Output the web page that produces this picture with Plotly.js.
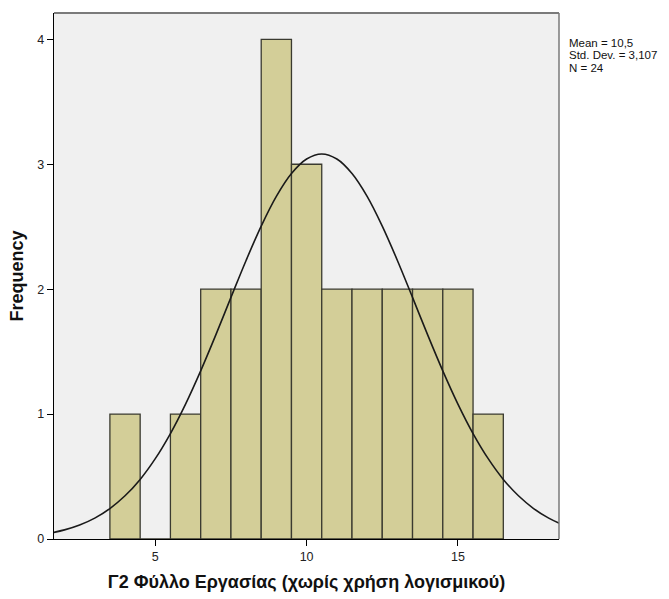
<!DOCTYPE html>
<html>
<head>
<meta charset="utf-8">
<script src="https://cdn.plot.ly/plotly-3.0.1.min.js"></script>
<style>html,body{margin:0;padding:0;background:#fff;}#chart{width:669px;height:599px;}</style>
</head>
<body>
<div id="chart"></div>
<script>
// Histogram bins (bin centers, width 1) and frequencies
const binCenters = [4, 5, 6, 7, 8, 9, 10, 11, 12, 13, 14, 15, 16];
const frequencies = [1, 0, 1, 2, 2, 4, 3, 2, 2, 2, 2, 2, 1];

// Normal curve
const curveX = [1.5, 2, 2.5, 3, 3.5, 4, 4.5, 5, 5.5, 6, 6.5, 7, 7.5, 8, 8.5, 9, 9.5, 10, 10.5,
                11, 11.5, 12, 12.5, 13, 13.5, 14, 14.5, 15, 15.5, 16, 16.5, 17, 17.5, 18, 18.5, 19];
const curveY = [0.046, 0.073, 0.112, 0.167, 0.244, 0.346, 0.477, 0.643, 0.844, 1.080, 1.346, 1.634, 1.934, 2.230, 2.505, 2.743, 2.926, 3.042, 3.082,
                3.042, 2.926, 2.743, 2.505, 2.230, 1.934, 1.634, 1.346, 1.080, 0.844, 0.643, 0.477, 0.346, 0.244, 0.167, 0.112, 0.073];

const xTicks = [5, 10, 15];
const yTicks = [0, 1, 2, 3, 4];
const statsLines = ["Mean = 10,5", "Std. Dev. = 3,107", "N = 24"];
const xTitle = "Γ2 Φύλλο Εργασίας (χωρίς χρήση λογισμικού)";
const yTitle = "Frequency";

const FONT = "Arial, 'Liberation Sans', sans-serif";
const plotTop = 13, plotBottom = 539, H = 599;

const traces = [
  {
    type: "bar",
    x: binCenters,
    y: frequencies,
    width: 1,
    marker: {color: "#d3ce98", line: {color: "#3a3a30", width: 1.3}},
    hoverinfo: "x+y",
    showlegend: false
  },
  {
    type: "scatter",
    mode: "lines",
    x: curveX,
    y: curveY,
    line: {color: "#1a1a1a", width: 1.6, shape: "spline"},
    showlegend: false,
    hoverinfo: "skip"
  }
];

const annotations = statsLines.map((t, i) => ({
  xref: "paper", yref: "paper",
  x: (567 - 54) / 505, xanchor: "left",
  y: (plotBottom - [42.5, 55, 67.5][i]) / (plotBottom - plotTop), yanchor: "middle",
  text: t, showarrow: false,
  font: {family: FONT, size: 11.5, color: "#111"}
}));

const layout = {
  width: 669, height: 599,
  margin: {l: 54, r: 110, t: 13, b: 60},
  paper_bgcolor: "#ffffff",
  plot_bgcolor: "#f0f0f0",
  font: {family: FONT, color: "#111"},
  bargap: 0,
  xaxis: {
    range: [1.653, 18.34],
    tickvals: xTicks, ticktext: xTicks.map(String),
    ticks: "outside", ticklen: 6, tickcolor: "#000", tickwidth: 1,
    showgrid: false, zeroline: false,
    showline: true, linecolor: "#000", linewidth: 1.2,
    tickfont: {family: FONT, size: 12.5, color: "#222"},
    title: {text: xTitle, font: {family: FONT, size: 18, color: "#111", weight: "bold"}, standoff: 12},
    automargin: false
  },
  yaxis: {
    range: [0, 4.211],
    tickvals: yTicks, ticktext: yTicks.map(String),
    ticks: "outside", ticklen: 6, tickcolor: "#000", tickwidth: 1,
    showgrid: false, zeroline: false,
    showline: true, linecolor: "#000", linewidth: 1.2,
    tickfont: {family: FONT, size: 12.5, color: "#222"},
    title: {text: yTitle, font: {family: FONT, size: 18, color: "#111", weight: "bold"}, standoff: 9},
    automargin: false
  },
  shapes: [
    {type: "line", xref: "paper", yref: "paper", x0: 0, x1: 1, y0: 1, y1: 1, line: {color: "#7a7a7a", width: 2}},
    {type: "line", xref: "paper", yref: "paper", x0: 1, x1: 1, y0: 0, y1: 1, line: {color: "#7a7a7a", width: 1.5}}
  ],
  annotations: annotations
};

Plotly.newPlot("chart", traces, layout, {displayModeBar: false, staticPlot: true});
</script>
</body>
</html>
